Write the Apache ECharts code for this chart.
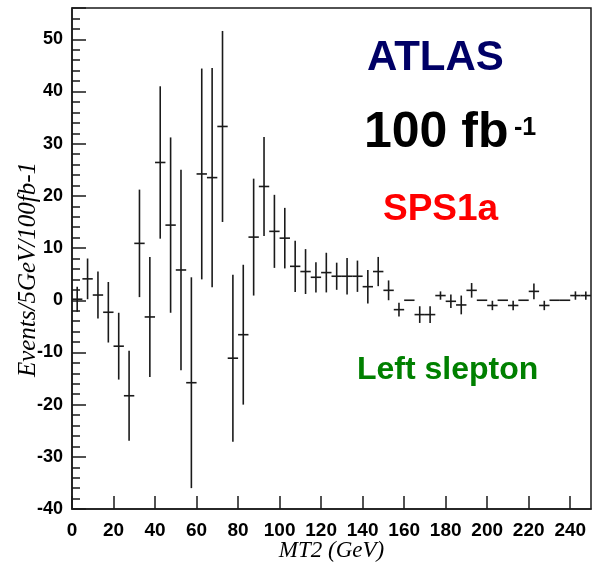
<!DOCTYPE html>
<html>
<head>
<meta charset="utf-8">
<script src="https://cdn.jsdelivr.net/npm/echarts@6/dist/echarts.min.js"></script>
<style>
  html, body { margin: 0; padding: 0; background: #fff; }
  #chart { width: 592px; height: 564px; }
</style>
</head>
<body>
<div id="chart"></div>
<script>
// MT2 distribution, 5 GeV bins: bin centres, contents and errors
const BIN_WIDTH = 5;
const mt2Centers = [
  2.5, 7.5, 12.5, 17.5, 22.5, 27.5, 32.5, 37.5, 42.5, 47.5,
  52.5, 57.5, 62.5, 67.5, 72.5, 77.5, 82.5, 87.5, 92.5, 97.5,
  102.5, 107.5, 112.5, 117.5, 122.5, 127.5, 132.5, 137.5, 142.5, 147.5,
  152.5, 157.5, 162.5, 167.5, 172.5, 177.5, 182.5, 187.5, 192.5, 197.5,
  202.5, 207.5, 212.5, 217.5, 222.5, 227.5, 232.5, 237.5, 242.5, 247.5
];
const events = [
  0.2, 4.1, 1.0, -2.3, -8.8, -18.3, 10.9, -3.2, 26.4, 14.4,
  5.8, -15.8, 24.2, 23.5, 33.3, -11.1, -6.6, 12.1, 21.8, 13.2,
  11.9, 6.5, 5.5, 4.4, 5.3, 4.6, 4.6, 4.6, 2.6, 5.5,
  1.9, -1.8, 0, -2.75, -2.75, 0.9, -0.2, -0.9, 1.9, 0,
  -1.0, 0, -1.0, 0, 1.7, -1.0, 0, 0, 0.9, 0.9
];
const errors = [
  2.4, 3.9, 4.5, 5.8, 6.4, 8.6, 10.3, 11.5, 14.6, 16.8,
  19.2, 20.2, 20.2, 21.0, 18.3, 16.0, 13.4, 11.2, 9.5, 7.0,
  5.8, 4.9, 4.3, 2.9, 3.8, 2.6, 3.5, 3.0, 3.2, 2.8,
  1.9, 1.3, 0, 1.6, 1.6, 0.8, 1.3, 1.8, 1.4, 0,
  0.9, 0, 0.9, 0, 1.5, 0.9, 0, 0, 0.8, 0.8
];

const xTicks = { min: 0, max: 250, interval: 20 };
const yTicks = { min: -40, max: 56, interval: 10 };

const points = mt2Centers.map((x, i) => [x, events[i], errors[i]]);

const SANS = "'Liberation Sans', Arial, sans-serif";
const SERIF = "'Liberation Serif', 'Times New Roman', serif";
const INK = '#1a1a1a';

function renderErrorBar(params, api) {
  const x = api.value(0), v = api.value(1), e = api.value(2);
  const l = api.coord([x - BIN_WIDTH / 2, v]);
  const r = api.coord([x + BIN_WIDTH / 2, v]);
  const children = [{
    type: 'line',
    shape: { x1: l[0], y1: l[1], x2: r[0], y2: r[1] },
    style: { stroke: INK, lineWidth: 1.6 }
  }];
  if (e > 0) {
    const t = api.coord([x, v + e]);
    const b = api.coord([x, v - e]);
    children.push({
      type: 'line',
      shape: { x1: t[0], y1: t[1], x2: b[0], y2: b[1] },
      style: { stroke: INK, lineWidth: 1.6 }
    });
  }
  return { type: 'group', children };
}

const chart = echarts.init(document.getElementById('chart'), null, { renderer: 'canvas' });
chart.setOption({
  animation: false,
  backgroundColor: '#fff',
  grid: {
    left: 72, right: 1, top: 8, bottom: 55,
    outerBoundsMode: 'none',
    containLabel: false,
    show: true, borderColor: INK, borderWidth: 1.5, backgroundColor: 'transparent'
  },
  xAxis: {
    type: 'value',
    min: xTicks.min, max: xTicks.max, interval: xTicks.interval,
    name: 'MT2 (GeV)',
    nameLocation: 'middle',
    nameMoveOverlap: false,
    nameGap: 30,
    nameTextStyle: { fontFamily: SERIF, fontStyle: 'italic', fontSize: 23, color: '#000' },
    axisLine: { show: true, onZero: false, lineStyle: { color: INK, width: 1.5 } },
    axisTick: { show: true, inside: true, length: 13, lineStyle: { color: INK, width: 1.5 } },
    axisLabel: {
      showMaxLabel: false, margin: 12,
      fontFamily: SANS, fontWeight: 'bold', fontSize: 19, color: '#000'
    },
    splitLine: { show: false }
  },
  yAxis: {
    type: 'value',
    min: yTicks.min, max: yTicks.max, interval: yTicks.interval,
    name: 'Events/5GeV/100fb-1',
    nameLocation: 'middle',
    nameMoveOverlap: false,
    nameGap: 31,
    nameRotate: 90,
    nameTextStyle: {
      fontFamily: SERIF, fontStyle: 'italic', fontSize: 25, color: '#000',
      padding: [0, 22, 0, 0]
    },
    axisLine: { show: true, onZero: false, lineStyle: { color: INK, width: 1.5 } },
    axisTick: { show: true, inside: true, length: 14, lineStyle: { color: INK, width: 1.5 } },
    minorTick: { show: true, splitNumber: 5, length: 8, lineStyle: { color: INK, width: 1.5 } },
    axisLabel: {
      showMaxLabel: false, margin: 9,
      fontFamily: SANS, fontWeight: 'bold', fontSize: 18, color: '#000'
    },
    splitLine: { show: false }
  },
  graphic: [
    { type: 'text', x: 367, y: 58, style: { text: 'ATLAS', fill: '#000066', font: 'bold 42px ' + SANS, verticalAlign: 'middle' } },
    { type: 'text', x: 364, y: 133, style: { text: '100 fb', fill: '#000', font: 'bold 50px ' + SANS, verticalAlign: 'middle' } },
    { type: 'text', x: 514, y: 128, style: { text: '-1', fill: '#000', font: 'bold 25px ' + SANS, verticalAlign: 'middle' } },
    { type: 'text', x: 383, y: 210, style: { text: 'SPS1a', fill: '#ff0000', font: 'bold 37px ' + SANS, verticalAlign: 'middle' } },
    { type: 'text', x: 357, y: 370, style: { text: 'Left slepton', fill: '#008000', font: 'bold 32px ' + SANS, verticalAlign: 'middle' } }
  ],
  series: [{
    type: 'custom',
    renderItem: renderErrorBar,
    data: points,
    encode: { x: 0, y: 1 },
    clip: true
  }]
});
</script>
</body>
</html>
